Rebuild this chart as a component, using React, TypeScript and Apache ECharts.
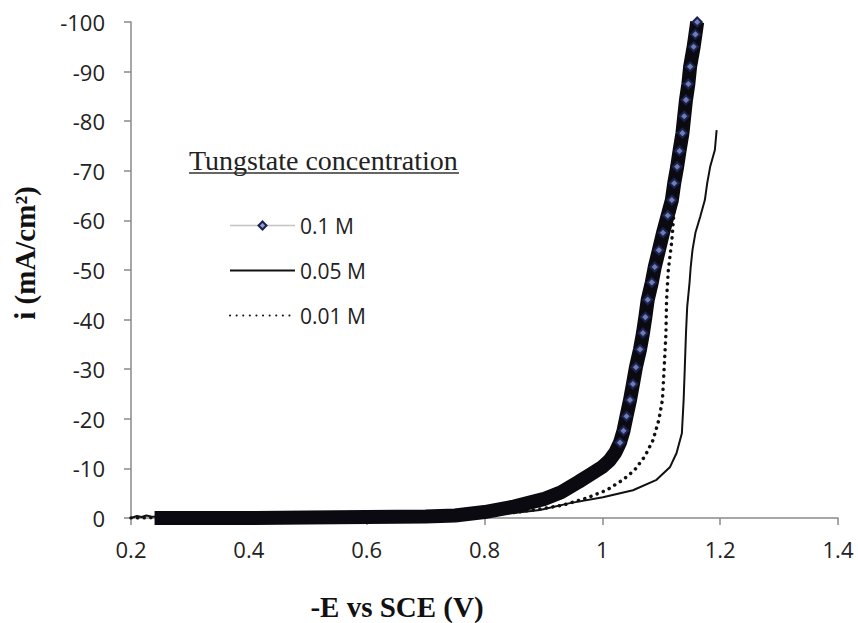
import React, { useEffect, useRef } from "react";
import * as echarts from "echarts";

// -E vs SCE (V) and i (mA/cm2) readings, per tungstate concentration
const e01 = [0.24, 0.3, 0.4, 0.5, 0.6, 0.7, 0.75, 0.8, 0.85, 0.9, 0.93, 0.96, 0.98, 1.0, 1.012, 1.022, 1.03, 1.036, 1.041, 1.047, 1.052, 1.057, 1.064, 1.069, 1.073, 1.077, 1.084, 1.089, 1.096, 1.103, 1.111, 1.118, 1.122, 1.127, 1.131, 1.136, 1.139, 1.142, 1.146, 1.149, 1.155, 1.158, 1.161];
const i01 = [0, 0, 0, -0.1, -0.2, -0.3, -0.5, -1.2, -2.3, -3.8, -5.2, -7.3, -8.8, -10.3, -11.6, -13.2, -15.2, -17.6, -20.5, -23.8, -27, -30.4, -34, -37.3, -40.5, -44, -47.5, -50.6, -54, -57.5, -61, -64.1, -67.5, -70.8, -74, -77.6, -81, -84.3, -87.5, -91, -95, -97.5, -100];

const e005 = [0.2, 0.21, 0.218, 0.226, 0.234, 0.3, 0.4, 0.5, 0.6, 0.7, 0.8, 0.85, 0.894, 0.945, 1.001, 1.052, 1.092, 1.115, 1.126, 1.135, 1.138, 1.14, 1.142, 1.144, 1.148, 1.15, 1.153, 1.158, 1.166, 1.174, 1.178, 1.183, 1.191, 1.194];
const i005 = [0, -0.4, -0.2, -0.5, -0.3, -0.2, -0.2, -0.2, -0.2, -0.3, -0.6, -1.0, -1.6, -3.0, -4.2, -5.6, -7.7, -10.3, -13.1, -17.1, -23.8, -30.4, -37.3, -42.5, -47.4, -50.6, -54, -57.5, -60.7, -64.1, -67.5, -70.8, -74.2, -78.2];

const e001 = [0.2, 0.3, 0.4, 0.5, 0.6, 0.7, 0.8, 0.85, 0.9, 0.933, 0.973, 1.007, 1.035, 1.055, 1.072, 1.086, 1.096, 1.102, 1.105, 1.108, 1.109, 1.112, 1.118, 1.121, 1.123];
const i001 = [0, -0.1, -0.1, -0.1, -0.2, -0.3, -0.6, -1.1, -1.9, -2.6, -4.0, -5.6, -7.7, -9.7, -12.4, -15.7, -19.8, -23.8, -30.4, -37.3, -44.0, -50, -56, -60.7, -63];

const seriesNames = ["0.1 M", "0.05 M", "0.01 M"];
const xTicks = { min: 0.2, max: 1.4, interval: 0.2 };
const yTicks = { min: -100, max: 0, interval: 10 };

const pairs = (xs: number[], ys: number[]) => xs.map((x, k) => [x, ys[k]]);

export default function App() {
  const ref = useRef<HTMLDivElement>(null);
  useEffect(() => {
    if (!ref.current) return;
    const chart = echarts.init(ref.current, undefined, { renderer: "svg" });
    const axisLineStyle = { color: "#8a8a8a", width: 1.5 };
    const labelFont = { fontFamily: "Open Sans", fontSize: 22, color: "#222" };
    const hiddenSymbol = { color: "rgba(0,0,0,0)", borderWidth: 0 };
    const d01 = pairs(e01, i01).map((p) => ({
      value: p,
      symbol: p[1] <= -15 ? "diamond" : "none",
    }));
    chart.setOption({
      animation: false,
      backgroundColor: "#fff",
      grid: { left: 131, right: 20, top: 22, bottom: 105 },
      xAxis: {
        type: "value",
        min: xTicks.min,
        max: xTicks.max,
        interval: xTicks.interval,
        splitLine: { show: false },
        axisLine: { show: true, onZero: false, lineStyle: axisLineStyle },
        axisTick: { show: true, length: 7, lineStyle: axisLineStyle },
        axisLabel: { ...labelFont, margin: 20, formatter: (v: number) => String(Math.round(v * 10) / 10) },
      },
      yAxis: {
        type: "value",
        inverse: true,
        min: yTicks.min,
        max: yTicks.max,
        interval: yTicks.interval,
        splitLine: { show: false },
        axisLine: { show: true, onZero: false, lineStyle: axisLineStyle },
        axisTick: { show: true, length: 7, lineStyle: axisLineStyle },
        axisLabel: { ...labelFont, margin: 26 },
      },
      legend: {
        orient: "vertical",
        left: 224,
        top: 210,
        itemWidth: 65,
        itemHeight: 10,
        itemGap: 24,
        textStyle: { fontFamily: "Open Sans", fontSize: 21, color: "#222" },
        data: [
          {
            name: seriesNames[0],
            lineStyle: { color: "#c4c4c4", width: 1.5 },
            itemStyle: { color: "#8fa0c8", borderColor: "#1b2150", borderWidth: 2 },
          },
          { name: seriesNames[1], itemStyle: hiddenSymbol },
          { name: seriesNames[2], itemStyle: hiddenSymbol },
        ],
      },
      graphic: [
        {
          type: "text",
          x: 189,
          y: 160,
          style: {
            text: "Tungstate concentration",
            font: '28px "Liberation Serif"',
            fill: "#222",
            textAlign: "left",
            textVerticalAlign: "middle",
          },
        },
        {
          type: "line",
          shape: { x1: 189, y1: 173, x2: 459, y2: 173 },
          style: { stroke: "#333", lineWidth: 1.5 },
        },
        {
          type: "text",
          x: 25,
          y: 253,
          rotation: Math.PI / 2,
          style: {
            text: "i (mA/cm²)",
            font: 'bold 29px "Liberation Serif"',
            fill: "#111",
            textAlign: "center",
            textVerticalAlign: "middle",
          },
        },
        {
          type: "text",
          x: 397,
          y: 607,
          style: {
            text: "-E vs SCE (V)",
            font: 'bold 29px "Liberation Serif"',
            fill: "#111",
            textAlign: "center",
            textVerticalAlign: "middle",
          },
        },
      ],
      series: [
        {
          name: seriesNames[2],
          type: "line",
          data: pairs(e001, i001),
          showSymbol: false,
          symbol: "none",
          z: 2,
          lineStyle: { color: "#111", width: 3.5, type: [0.1, 6.5], cap: "round" },
          itemStyle: { color: "#111" },
        },
        {
          name: seriesNames[1],
          type: "line",
          data: pairs(e005, i005),
          showSymbol: false,
          symbol: "none",
          z: 3,
          lineStyle: { color: "#111", width: 2 },
          itemStyle: { color: "#111" },
        },
        {
          name: seriesNames[0],
          type: "line",
          data: d01,
          showAllSymbol: true,
          symbol: "diamond",
          symbolSize: 9,
          z: 4,
          lineStyle: { color: "#0a0a10", width: 14, join: "round" },
          itemStyle: { color: "#6d7fb0", borderColor: "#1b2150", borderWidth: 2 },
        },
      ],
    });
    return () => chart.dispose();
  }, []);
  return (
    <div
      ref={ref}
      style={{ position: "absolute", left: 0, top: 0, width: 858, height: 623 }}
    />
  );
}
